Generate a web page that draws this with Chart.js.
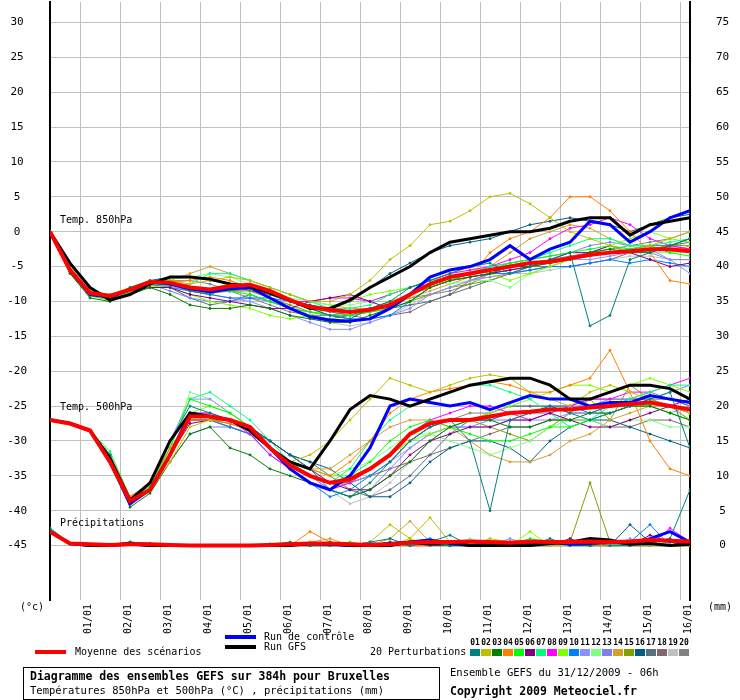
<!DOCTYPE html>
<html><head><meta charset="utf-8">
<script src="https://cdn.jsdelivr.net/npm/chart.js@4"></script>
<style>html,body{margin:0;padding:0;background:#fff}#w{width:740px;height:700px;position:relative}</style>
</head><body><div id="w"><canvas id="c" width="740" height="700"></canvas></div>
<script>
const hours = Array.from({length:33},(_, i)=>i*12);
const dayLabels = ["01/01","02/01","03/01","04/01","05/01","06/01","07/01","08/01","09/01","10/01","11/01","12/01","13/01","14/01","15/01","16/01"];
const leftTicks = [30,25,20,15,10,5,0,-5,-10,-15,-20,-25,-30,-35,-40,-45];
const rightTicks = [75,70,65,60,55,50,45,40,35,30,25,20,15,10,5,0];
const pertColors = ["#008080","#bfbf00","#008000","#ff8000","#00ff00","#800080","#00ff80","#ff00ff","#80ff00","#0080ff","#8f8fff","#80ff80","#7f7fef","#d4a030","#80a000","#005f80","#557080","#806870","#c0c0c0","#808080"];

const mean850 = [0,-5.5,-8.8,-9.2,-8.3,-7.2,-7.3,-8.0,-8.3,-7.8,-7.6,-8.5,-9.8,-10.8,-11.2,-11.5,-11.2,-10.5,-9,-7.5,-6.5,-6,-5.5,-5,-4.5,-4.3,-3.8,-3.3,-3,-2.8,-2.5,-2.5,-2.8];
const ctrl850 = [0,-5.6,-9,-9.4,-8.3,-7.2,-7.5,-8.2,-8.6,-8.2,-8,-9.5,-11,-12.2,-12.7,-12.8,-12.5,-11,-9,-6.5,-5.5,-5,-4,-2,-4,-2.5,-1.5,1.5,1,-1.5,0,2,3];
const gfs850 = [0,-4.5,-8,-9.8,-9,-7.5,-6.5,-6.5,-6.8,-7.5,-7.8,-8.8,-9.8,-11,-11,-9.8,-8,-6.5,-5,-3,-1.5,-1,-0.5,0,0,0.5,1.5,2,2,-0.5,1,1.5,2];
const p850 = [
[0,-5.8,-9,-9.5,-8,-7,-7.5,-8.5,-9,-8,-7.5,-9,-10,-11,-12,-12.5,-11,-10,-8,-7,-6,-5,-4.5,-6,-5,-4,-3,-13.5,-12,-4,-3,-2,-1],
[0,-5,-8.5,-9,-8,-7,-7,-7.5,-7,-6.5,-7,-8,-9,-10,-10,-9,-7,-4,-2,1,1.5,3,5,5.5,4,2,0,-1,-2,-3,-2,-1,0],
[0,-6,-9.5,-10,-9,-8,-9,-10.5,-11,-11,-10.5,-11,-12,-12.5,-13,-13,-12,-11,-10,-8,-7,-6.5,-6,-5,-5,-4.5,-4,-3,-2.5,-3,-3,-2,-1],
[0,-5.5,-9,-9.5,-8.5,-7.5,-7,-7,-6.5,-7,-8,-9,-10,-11,-11,-11.5,-11,-10,-9,-8,-7,-6.5,-3,-1,0,2,5,5,3,0,-3,-7,-7.5],
[0,-5.8,-9.2,-9.8,-8.8,-7.5,-7.5,-8,-8.5,-8.5,-9,-10,-11,-11.5,-12,-12,-11.5,-11,-10,-8,-7,-6,-5.5,-4.5,-4,-3.5,-3,-2.5,-2,-2.5,-2,-3,-3.5],
[0,-5.5,-8.8,-9.4,-8.5,-8,-8,-9,-9.5,-10,-10.5,-11,-11,-10,-9.5,-9,-10,-11,-9,-8,-7,-6.5,-6,-5.5,-5,-4,-3,-3,-2,-3,-4,-5,-4.5],
[0,-5.6,-9,-9.5,-8.5,-7.5,-7.8,-7.5,-6,-6,-7,-8,-9,-10,-11,-11,-10.5,-9,-8,-7,-6.5,-6,-5,-4.5,-4,-3,-2,-1,-1,-2,-2,-1.5,-1],
[0,-5.5,-8.9,-9.4,-8.4,-7.3,-7.5,-8,-8.5,-8,-8,-9,-10,-10,-9.5,-9.5,-10,-9,-8,-7,-6,-5.5,-5,-4,-3,-1,0.5,1,2,1,-1,-2,-2.5],
[0,-5.7,-9,-9.6,-8.8,-7.8,-8,-9,-10,-10.5,-11,-12,-12.5,-12,-11,-10,-9,-8.5,-8,-7,-6,-5,-6,-7,-6,-5,-4,-3,-2,-1,0,-1,-1.5],
[0,-5.6,-9,-9.5,-8.5,-7.5,-8,-8.5,-9,-9.5,-9.5,-9.5,-10,-11,-12,-12.5,-12.5,-12,-10,-8,-7,-6.5,-6,-6,-5.5,-5,-5,-4.5,-4,-4.5,-4,-4.5,-5],
[0,-5.4,-8.7,-9.2,-8.3,-7.2,-7.8,-8.5,-9,-9.5,-10,-11,-12,-13,-14,-14,-13,-12,-11,-9,-8,-7,-6.5,-6,-5,-4.5,-4,-4,-3.5,-3,-2.5,-4,-6],
[0,-5.5,-8.8,-9.3,-8.3,-7.1,-6.8,-6.5,-6,-6.5,-7.5,-8.5,-9.5,-10,-10.5,-10.5,-10,-9,-8,-7,-7.5,-7,-7,-8,-6,-5,-4,-3,-3,-2,-3,-3,-3],
[0,-5.3,-8.6,-9,-8.2,-7.5,-8.5,-9.5,-10,-10,-9.5,-10,-11,-11.5,-12,-12,-11.5,-10.5,-9,-8,-7,-6,-5,-4.5,-4,-3.5,-3,-2,-1.5,-2,-3,-4,-4],
[0,-5.5,-8.8,-9.3,-8.3,-7.5,-7,-6,-5,-6,-7,-8,-9,-10,-10.5,-11,-11,-10.5,-9.5,-8.5,-7.5,-6.5,-5,-3,-1,0,1,0.5,-1,-2,-2,-3,-2],
[0,-5.6,-9,-9.6,-8.6,-7.6,-7.6,-8.2,-8.5,-8.5,-8.5,-9.5,-10.5,-11.5,-12,-12,-11.5,-11,-10,-9,-8,-7.5,-7,-6,-5,-4.5,-4,-3.5,-3,-3,-2.5,-2,-2],
[0,-5.5,-8.8,-9.2,-8.2,-7,-6.5,-6.5,-7,-7.5,-8.5,-9,-10,-10.5,-11,-10,-8,-6,-4.5,-3,-2,-1.5,-1,0,1,1.5,2,1.5,1,0,1,2,2.5],
[0,-5.5,-8.9,-9.3,-8.5,-7.5,-8,-9.5,-10.5,-10,-9,-10,-11,-12,-12.5,-12,-11,-11,-10.5,-10,-9,-8,-7,-6,-5.5,-5,-4,-3.5,-3,-2.5,-2,-2,-1.5],
[0,-5.4,-8.7,-9.1,-8.3,-7.3,-7.5,-8.3,-8.8,-8.5,-8.2,-9,-10,-11,-11.5,-12,-12.5,-12,-11.5,-10,-9,-7,-6,-5.5,-5,-5,-5,-4.5,-4,-3,-2.5,-2,-2.5],
[0,-5.5,-8.8,-9.2,-8.4,-7.4,-7.6,-8.2,-8.6,-8.6,-8.4,-9.5,-10.5,-12,-13,-13.5,-13,-12,-10.5,-9,-8,-7,-6.5,-6,-6,-5.5,-5,-4.5,-4,-3.5,-3.5,-4,-4],
[0,-5.6,-9,-9.4,-8.5,-7.5,-7.2,-7,-7.5,-8.5,-9.5,-10.5,-11.5,-12,-12,-11.5,-11,-10,-9.5,-9,-8.5,-7.5,-6,-5,-4.5,-4,-3.5,-3,-2.5,-2,-1.5,-1,0]
];

const mean500 = [-27,-27.5,-28.5,-33,-38.6,-37,-32,-26.5,-26.5,-27,-28,-31,-33.5,-35,-36,-35.5,-34,-32,-29,-27.5,-27,-27,-26.5,-26,-25.8,-25.5,-25.5,-25.2,-25,-24.7,-24.5,-25,-25.5];
const ctrl500 = [-27,-27.5,-28.5,-33,-39,-37,-32,-26,-26.5,-27,-28.5,-31,-34,-36,-37,-35,-31,-25,-24,-24.5,-25,-24.5,-25.5,-24.5,-23.5,-24,-24,-25,-24.5,-24.5,-23.5,-24,-24.5];
const gfs500 = [-27,-27.5,-28.5,-32.5,-38.5,-36,-30,-26,-26.5,-27,-28.5,-31,-33,-34,-30,-25.5,-23.5,-24,-25,-24,-23,-22,-21.5,-21,-21,-22,-24,-24,-23,-22,-22,-22.5,-24];
const p500 = [
[-27,-27.5,-28.5,-32,-39,-36,-30,-25,-26,-27,-28,-30,-32,-34,-37,-38,-36,-33,-30,-28,-27,-30,-40,-27,-26,-25,-26,-27,-26,-25,-24,-23,-31],
[-27,-27.5,-28.5,-33,-39,-37,-33,-28,-27,-27,-28,-31,-33,-32,-30,-27,-24,-21,-22,-23,-22,-21,-20.5,-21,-23,-24,-25,-23,-22,-23,-24,-25,-26],
[-27,-27.5,-28.5,-33,-39.5,-37.5,-33,-29,-28,-31,-32,-34,-35,-36,-37,-38,-37,-35,-33,-30,-28,-27,-27,-28,-28,-27,-27,-26,-26,-25,-25,-26,-27],
[-27,-27.5,-28.5,-32,-38,-36,-31,-27,-27,-27.5,-28.5,-31,-33,-34,-35,-33,-30,-26,-24,-23,-22.5,-22,-21.5,-22,-23,-23,-22,-21,-17,-23,-30,-34,-35],
[-27,-27.5,-28.5,-32,-38.5,-36.5,-31,-24,-25,-26,-28,-31,-33,-35,-36,-35,-33,-30,-28,-27,-28,-29,-30,-30,-29,-28,-28,-27,-26,-25,-25,-26,-27],
[-27,-27.5,-28.5,-32.5,-39,-37,-32,-27.5,-27,-27,-28,-30,-32,-34,-36,-37,-37,-35,-32,-30,-29,-28,-28,-27,-27,-26,-27,-28,-28,-27,-26,-25,-24],
[-27,-27.5,-28.5,-31.5,-38,-36,-31,-24,-23,-25,-27,-30,-33,-35,-36,-34,-30,-27,-25,-24,-23,-22,-22,-23,-24,-26,-28,-27,-25,-24,-23,-22,-22],
[-27,-27.5,-28.5,-32,-39,-37,-32,-26,-26,-27,-29,-32,-34,-36,-37,-36,-34,-32,-29,-27,-26,-25,-25,-26,-27,-26,-25,-24,-24,-23,-23,-22,-21],
[-27,-27.5,-28.5,-32,-39,-37,-32,-26,-25,-26,-28,-31,-33,-34,-35,-35,-34,-32,-30,-29,-28,-27,-26,-25,-24,-23,-22,-22,-23,-22,-21,-22,-23],
[-27,-27.5,-28.5,-32,-39,-37,-32,-27,-27,-28,-29,-32,-34,-36,-38,-37,-35,-33,-30,-28,-27,-27,-27,-26,-26,-25,-25,-26,-25,-25,-24,-25,-26],
[-27,-27.5,-28.5,-32,-38.5,-36,-30,-24,-24,-26,-28,-31,-34,-36,-37,-36,-35,-33,-31,-29,-28,-28,-28,-27,-27,-27,-26,-26,-26,-25,-25,-26,-25],
[-27,-27.5,-28.5,-32,-39,-37,-31,-23,-24,-26,-28,-31,-33,-34,-35,-34,-33,-31,-29,-29,-30,-31,-32,-31,-30,-28,-27,-27,-28,-27,-27,-28,-28],
[-27,-27.5,-28.5,-32.5,-39,-37,-33,-29,-28,-28,-29,-31,-33,-35,-37,-38,-37,-34,-31,-29,-28,-28,-27,-27,-26,-26,-25,-25,-24,-24,-24,-23,-22],
[-27,-27.5,-28.5,-32,-39,-37,-32,-27,-27,-28,-29,-31,-33,-34,-34,-32,-30,-28,-27,-27,-28,-30,-32,-33,-33,-32,-30,-29,-27,-26,-25,-25,-26],
[-27,-27.5,-28.5,-32,-39,-37,-32,-27,-27,-28,-29,-31,-33,-35,-36,-36,-35,-33,-30,-28,-27,-27,-28,-29,-30,-28,-26,-24,-27,-22,-24,-25,-27],
[-27,-27.5,-28.5,-32,-39,-37,-32,-27,-27,-27,-28,-30,-32,-33,-34,-36,-38,-38,-36,-33,-31,-30,-30,-31,-33,-30,-28,-27,-27,-28,-29,-30,-31],
[-27,-27.5,-28.5,-32,-39,-37,-32,-27,-27,-27.5,-28.5,-30,-32,-33,-35,-37,-38,-37,-35,-32,-29,-27,-26,-25,-25,-25,-26,-26,-25,-24,-24,-24,-25],
[-27,-27.5,-28.5,-32,-39,-37,-32,-27,-27,-28,-29,-31,-33,-35,-36,-36,-35,-34,-33,-32,-31,-30,-29,-28,-28,-27,-27,-27,-28,-28,-27,-27,-28],
[-27,-27.5,-28.5,-32,-39,-37,-32,-27,-27,-27,-28,-31,-33,-35,-37,-39,-38,-36,-33,-30,-28,-27,-27,-26,-26,-26,-25,-25,-25,-24,-24,-25,-26],
[-27,-27.5,-28.5,-32,-39,-37,-32,-26,-26,-27,-28.5,-31,-33,-35,-36,-36,-34,-32,-30,-28,-27,-26,-26,-25,-25,-25,-25,-24,-24,-24,-23,-24,-25]
];

const meanPr = [2,0.3,0.2,0.1,0.2,0.2,0.1,0,0,0,0,0.1,0.2,0.3,0.3,0.2,0.1,0.2,0.4,0.5,0.5,0.6,0.5,0.4,0.6,0.5,0.5,0.6,0.5,0.6,0.8,0.7,0.6];
const ctrlPr = [2,0.3,0,0,0.2,0,0,0,0,0,0,0,0.2,0.3,0.2,0,0,0.3,0.5,0.8,0.3,0,0.2,0,0.3,0.5,0.2,0.3,0.5,0.3,1,2,0.5];
const gfsPr = [2,0.3,0,0,0.3,0,0,0,0,0,0,0,0,0.3,0.3,0,0,0,0.5,0.2,0.5,0,0,0,0,0.3,0.5,1,0.8,0.2,0.3,0,0.2];
const pPr = [
[2.5,0.3,0,0,0.5,0.3,0,0,0,0,0,0,0.5,0,0,0,0.5,1,0,0.5,1.5,0,0.5,0,0,1,0,0.5,0,0,0.5,1,8],
[2,0.2,0,0,0.3,0,0,0,0,0,0,0,0,0.5,0,0,0.5,3,1,4,0.5,0,1,0.5,0,0,0,0.5,0,0,0,0,0],
[2,0.3,0,0.2,0.5,0.2,0,0,0,0,0,0,0,0,0.5,0,0,0.5,0,0.5,0,0,0,0.5,0,0.5,0,0,0.5,0,0,0,0],
[2,0.2,0,0,0.2,0.3,0,0,0,0,0,0,0,2,0.5,0,0,0.3,0,0,0.5,0,0,0,0.5,0,0.5,0,0,0,0.5,0,0],
[2.5,0.3,0,0,0.4,0.2,0,0,0,0,0,0,0.3,0,0,0.5,0,0,0.5,0.3,0,0.5,0,0,1,0.5,0,0,0,0.5,0,0,0.3],
[2,0.3,0,0,0.3,0,0,0,0,0,0,0,0,0,0,0,0,0.5,0,0,0,0,0,0.5,0,0,1,0,0,0,1.5,0.5,0],
[2,0.2,0,0,0.5,0.3,0,0,0,0,0,0.3,0.5,0,0,0,0,0,0,1,0,0,0,0,0.5,0,0,0,0.5,0,0,0.5,0],
[2,0.3,0,0,0.3,0,0,0,0,0,0,0,0,0,0,0.3,0,0,0,0,0.5,0,0,0,0,0,0.5,0,0,0,0,2.5,0.5],
[2,0.3,0.2,0,0.2,0,0,0,0,0,0,0,0,0,0.5,0,0,0,1,0,0,0.5,0,0,2,0,0,0.5,0,0,0,0,0],
[2,0.2,0,0,0.2,0,0,0,0,0,0,0,0,0.3,0,0,0,0,0.5,0,0,0,0.5,0,0,0.5,0,0,0,0.5,3,0,0],
[2,0.3,0,0,0.3,0.2,0,0,0,0,0,0,0,0,0,0,0.5,0,0,0,0,0,0,1,0,0,0,0,0,1,0,0.5,0],
[2,0.3,0,0,0.4,0,0,0,0,0,0,0,0,0,0,0,0,0,0,0.5,0,1,0,0,0,0,0.5,0,0,0,0,0,0.5],
[2,0.2,0,0,0.3,0,0,0,0,0,0,0,0,0,0,0,0,0,0.5,0,0,0,0,0,0,0,0,0,0,0,0.5,1,0],
[2,0.3,0,0,0.3,0,0,0,0,0,0,0,0,0.5,1,0,0,1,3.5,0.5,0,0,0.5,0,0,0,0,0.5,0,0,0,0,0],
[2,0.3,0,0,0.3,0,0,0,0,0,0,0,0,0,0,0,0,0,0,0,0,0,0.5,0,0,0,0.5,9,0.5,0,0,0,0],
[2,0.3,0,0,0.3,0,0,0,0,0,0,0,0,0,0,0,0.5,0,0.5,1,0,0,0,0.5,0,0,0,0,0,3,0.5,0,0],
[2,0.2,0,0,0.3,0,0,0,0,0,0,0,0,0,0,0,0,0,0,0,0.5,0,0,0,0.5,0,0,1,0,0,0,0,0.5],
[2,0.3,0,0,0.3,0,0,0,0,0,0,0,0,0,0,0,0,0,0,0,0,0.5,0,0,0,0,0,0,0,0,0,0,0],
[2,0.3,0,0,0.2,0,0,0,0,0,0,0,0.3,0,0,0,0,0,0,0,0,0,0,0,0,0.5,0,0,0,0,0,0.5,0],
[2,0.3,0,0,0.3,0,0,0,0,0,0,0,0,0,0.3,0,0,0,0,0.5,0,0,0,0,0,0,0,0,0.5,0,0,0,0]
];

const xy = a => a.map((v,i)=>({x:hours[i], y:v}));
const datasets = [];
const pert = (arr, col, axis) => ({data:xy(arr), borderColor:col, backgroundColor:col, borderWidth:1, pointRadius:1, pointHoverRadius:0, yAxisID:axis, order:10, tension:0});
p850.forEach((a,i)=>datasets.push(pert(a,pertColors[i],'y')));
p500.forEach((a,i)=>datasets.push(pert(a,pertColors[i],'y')));
pPr.forEach((a,i)=>datasets.push(pert(a,pertColors[i],'y2')));
const main = (arr,col,w,axis,ord) => ({data:xy(arr), borderColor:col, borderWidth:w, pointRadius:0, yAxisID:axis, order:ord, tension:0});
[[ctrl850,'y'],[ctrl500,'y'],[ctrlPr,'y2']].forEach(([a,ax])=>datasets.push(main(a,'#0000ff',3,ax,3)));
[[gfs850,'y'],[gfs500,'y'],[gfsPr,'y2']].forEach(([a,ax])=>datasets.push(main(a,'#000000',3,ax,2)));
[[mean850,'y'],[mean500,'y'],[meanPr,'y2']].forEach(([a,ax])=>datasets.push(main(a,'#ff0000',4,ax,1)));

const FONT = "DejaVu Sans Mono";
const extras = {
  id:'extras',
  afterDraw(chart){
    const c = chart.ctx, xs = chart.scales.x;
    c.save();
    c.fillStyle='#000'; c.font='10px "'+FONT+'"';
    dayLabels.forEach((t,i)=>{
      const px = xs.getPixelForValue(18+24*i)+8;
      c.save(); c.translate(px,604); c.rotate(-Math.PI/2);
      c.textAlign='right'; c.textBaseline='middle'; c.fillText(t,0,0); c.restore();
    });
    c.textBaseline='middle'; c.textAlign='left';
    c.fillText('(°c)',20,607);
    c.fillText('(mm)',708,607);
    c.fillText('Temp. 850hPa',60,220);
    c.fillText('Temp. 500hPa',60,407);
    c.fillText('Précipitations',60,523);
    c.lineWidth=4;
    c.strokeStyle='#0000ff'; c.beginPath(); c.moveTo(225,637); c.lineTo(256,637); c.stroke();
    c.strokeStyle='#000'; c.beginPath(); c.moveTo(225,647); c.lineTo(256,647); c.stroke();
    c.strokeStyle='#ff0000'; c.beginPath(); c.moveTo(35,652); c.lineTo(66,652); c.stroke();
    c.fillText('Run de contrôle',264,637);
    c.fillText('Run GFS',264,647);
    c.fillText('Moyenne des scénarios',75,652);
    c.fillText('20 Perturbations',370,652);
    c.font='bold 8px "'+FONT+'"'; c.textAlign='center';
    pertColors.forEach((col,i)=>{
      const bx = 470+i*11;
      c.fillStyle=col; c.fillRect(bx,649,10,7);
      c.fillStyle='#000'; c.fillText(String(i+1).padStart(2,'0'),bx+5,643);
    });
    c.textAlign='left';
    c.strokeStyle='#000'; c.lineWidth=1;
    c.strokeRect(23.5,667.5,416,32);
    c.font='bold 11.5px "'+FONT+'"'; c.fillText('Diagramme des ensembles GEFS sur 384h pour Bruxelles',30,677);
    c.font='10.5px "'+FONT+'"'; c.fillText('Températures 850hPa et 500hPa (°C) , précipitations (mm)',30,691);
    c.fillText('Ensemble GEFS du 31/12/2009 - 06h',450,673);
    c.font='bold 11.5px "'+FONT+'"'; c.fillText('Copyright 2009 Meteociel.fr',450,692);
    c.restore();
  }
};
const fitY = s => { s.width = 50; s.paddingTop = 0; s.paddingBottom = 0; };

new Chart(document.getElementById('c'),{
  type:'line',
  data:{datasets},
  plugins:[extras],
  options:{
    responsive:false, animation:false,
    layout:{padding:{top:0,bottom:100,left:0,right:0}},
    plugins:{legend:{display:false},tooltip:{enabled:false}},
    scales:{
      x:{type:'linear',min:0,max:384,
        afterBuildTicks:s=>{s.ticks=dayLabels.map((_,i)=>({value:18+24*i}));},
        afterFit:s=>{s.height=0; s.paddingLeft=0; s.paddingRight=0;},
        ticks:{display:false},
        grid:{color:'#c0c0c0',lineWidth:1,drawTicks:false},
        border:{display:false}},
      y:{position:'left',min:-52.8,max:32.93,
        afterBuildTicks:s=>{s.ticks=leftTicks.map(v=>({value:v}));},
        afterFit:fitY,
        ticks:{color:'#000',font:{family:FONT,size:11},padding:23,crossAlign:'center'},
        grid:{color:'#c0c0c0',drawTicks:false},
        border:{color:'#000',width:2}},
      y2:{position:'right',min:-7.8,max:77.93,
        afterBuildTicks:s=>{s.ticks=rightTicks.map(v=>({value:v}));},
        afterFit:fitY,
        ticks:{color:'#000',font:{family:FONT,size:11},padding:26,crossAlign:'center'},
        grid:{display:false,drawTicks:false},
        border:{color:'#000',width:2}}
    }
  }
});
</script></body></html>
